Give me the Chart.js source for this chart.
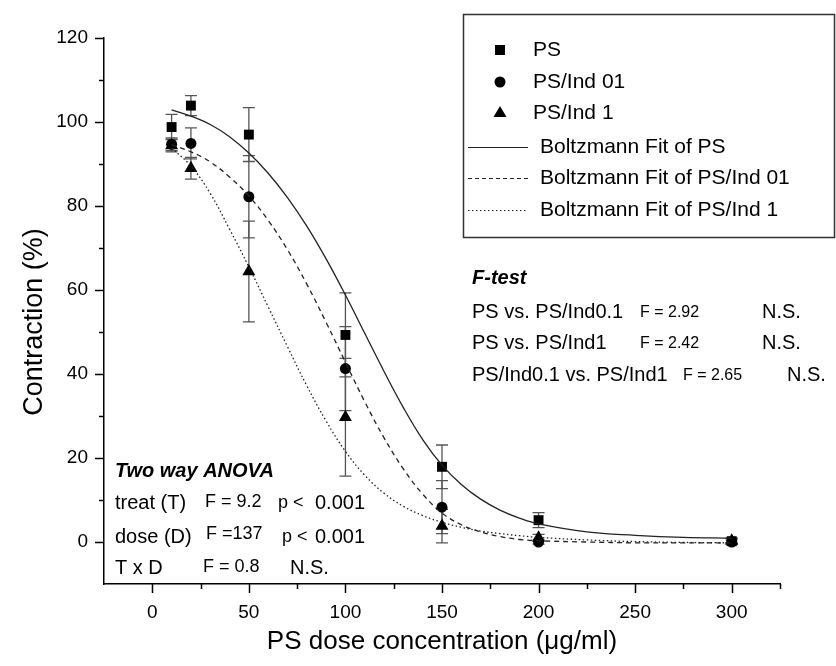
<!DOCTYPE html>
<html>
<head>
<meta charset="utf-8">
<script src="https://cdn.jsdelivr.net/npm/chart.js@4/dist/chart.umd.min.js"></script>
<style>
  html, body { margin: 0; padding: 0; background: #fff; }
  #wrap { width: 836px; height: 666px; }
</style>
</head>
<body>
<div id="wrap"><canvas id="chart" width="836" height="666"></canvas></div>
<script>
// measured points
const doses = [10, 20, 50, 100, 150, 200, 300];
const psMean = [98.8, 103.9, 97.0, 49.3, 17.9, 5.2, 0.2];
const psErr = [3.0, 2.4, 6.4, 10.0, 5.2, 1.8, 0.8];
const ind01Mean = [94.7, 94.9, 82.2, 41.3, 8.3, 0.0, 0.0];
const ind01Err = [1.5, 3.7, 9.8, 10.0, 6.3, 0.5, 0.5];
const ind1Mean = [94.4, 89.0, 64.4, 29.7, 3.8, 1.0, 0.3];
const ind1Err = [1.5, 2.6, 12.0, 14.0, 4.0, 0.8, 0.5];

// fitted curves
const fitX = [10, 20, 30, 40, 50, 60, 70, 80, 90, 100, 110, 120, 130, 140, 150, 160, 170, 180, 190, 200, 225, 250, 275, 300];
const fitPS = [102.9, 101.4, 99.4, 96.5, 92.6, 87.8, 82.0, 75.2, 67.4, 58.8, 49.7, 40.6, 32.0, 24.4, 18.3, 13.7, 10.2, 7.6, 5.7, 4.3, 2.4, 1.6, 1.1, 0.9];
const fitInd01 = [94.6, 92.9, 90.5, 86.9, 82.4, 76.6, 69.6, 61.4, 52.3, 42.8, 33.4, 24.8, 17.4, 11.4, 6.9, 4.1, 2.4, 1.3, 0.6, 0.3, 0.0, -0.2, -0.2, -0.2];
const fitInd1 = [93.8, 89.5, 83.0, 74.5, 65.5, 56.0, 46.5, 37.2, 28.8, 21.6, 15.9, 11.6, 8.5, 6.3, 4.7, 3.5, 2.6, 2.0, 1.5, 1.1, 0.5, 0.1, -0.1, -0.2];

const legendLabels = ['PS', 'PS/Ind 01', 'PS/Ind 1', 'Boltzmann Fit of PS', 'Boltzmann Fit of PS/Ind 01', 'Boltzmann Fit of PS/Ind 1'];
const xTitle = 'PS dose concentration (\u03bcg/ml)';
const yTitle = 'Contraction (%)';

const FONT = '"Liberation Sans", Arial, sans-serif';

function pts(xs, ys) {
    return xs.map((x, i) => ({ x: x, y: ys[i] }));
}

// error bars, drawn under the markers
const errorBars = {
    id: 'errorBars',
    beforeDatasetsDraw(chart) {
        const { ctx, scales: { x, y } } = chart;
        const groups = [[psMean, psErr], [ind01Mean, ind01Err], [ind1Mean, ind1Err]];
        ctx.save();
        ctx.strokeStyle = '#555';
        ctx.lineWidth = 1.3;
        groups.forEach(([m, e]) => {
            doses.forEach((d, i) => {
                const px = x.getPixelForValue(d);
                const top = y.getPixelForValue(m[i] + e[i]);
                const bot = y.getPixelForValue(m[i] - e[i]);
                ctx.beginPath();
                ctx.moveTo(px, top); ctx.lineTo(px, bot);
                ctx.moveTo(px - 6, top); ctx.lineTo(px + 6, top);
                ctx.moveTo(px - 6, bot); ctx.lineTo(px + 6, bot);
                ctx.stroke();
            });
        });
        ctx.restore();
    }
};

// outward major / minor ticks
const axisTicks = {
    id: 'axisTicks',
    afterDraw(chart) {
        const { ctx, scales: { x, y } } = chart;
        ctx.save();
        ctx.strokeStyle = '#000';
        ctx.lineWidth = 1.5;
        ctx.beginPath();
        for (let v = 0; v <= 325; v += 25) {
            const px = Math.round(x.getPixelForValue(v)) + 0.5;
            const len = v % 50 === 0 ? 9 : 5;
            ctx.moveTo(px, y.bottom); ctx.lineTo(px, y.bottom + len);
        }
        for (let v = 0; v <= 120; v += 10) {
            const py = Math.round(y.getPixelForValue(v)) + 0.5;
            const len = v % 20 === 0 ? 9 : 5;
            ctx.moveTo(x.left, py); ctx.lineTo(x.left - len, py);
        }
        ctx.stroke();
        ctx.restore();
    }
};

function marker(ctx, style, cx, cy) {
    ctx.beginPath();
    if (style === 'rect') {
        ctx.rect(cx - 5, cy - 5, 10, 10);
    } else if (style === 'circle') {
        ctx.arc(cx, cy, 5.5, 0, Math.PI * 2);
    } else {
        ctx.moveTo(cx, cy - 7);
        ctx.lineTo(cx + 6.5, cy + 4);
        ctx.lineTo(cx - 6.5, cy + 4);
        ctx.closePath();
    }
    ctx.fill();
}

// legend box, titles and statistics text
const annotations = {
    id: 'annotations',
    afterDraw(chart) {
        const ctx = chart.ctx;
        ctx.save();

        // legend
        ctx.fillStyle = '#fff';
        ctx.fillRect(463, 14, 372, 224);
        ctx.strokeStyle = '#333';
        ctx.lineWidth = 1.5;
        ctx.strokeRect(463.5, 14.5, 371, 223);

        ctx.fillStyle = '#000';
        ctx.font = '21px ' + FONT;
        ctx.textBaseline = 'middle';
        ctx.textAlign = 'left';
        const styles = ['rect', 'circle', 'triangle'];
        const mY = [50, 82, 113];
        styles.forEach((s, i) => {
            marker(ctx, s, 500, mY[i]);
            ctx.fillText(legendLabels[i], 533, mY[i]);
        });
        const lY = [147, 178, 210];
        const dashes = [[], [4, 3], [1.5, 2.5]];
        lY.forEach((yy, i) => {
            ctx.setLineDash(dashes[i]);
            ctx.strokeStyle = '#222';
            ctx.lineWidth = 1.2;
            ctx.beginPath();
            ctx.moveTo(468, yy + 0.5); ctx.lineTo(528, yy + 0.5);
            ctx.stroke();
            ctx.setLineDash([]);
            ctx.fillText(legendLabels[3 + i], 540, yy);
        });

        // F-test
        ctx.font = 'italic bold 20px ' + FONT;
        ctx.fillText('F-test', 472, 278);
        ctx.font = '20px ' + FONT;
        ctx.fillText('PS vs. PS/Ind0.1', 472, 312);
        ctx.fillText('PS vs. PS/Ind1', 472, 343);
        ctx.fillText('PS/Ind0.1 vs. PS/Ind1', 472, 375);
        ctx.fillText('N.S.', 762, 312);
        ctx.fillText('N.S.', 762, 343);
        ctx.fillText('N.S.', 787, 375);
        ctx.font = '16px ' + FONT;
        ctx.fillText('F = 2.92', 640, 313);
        ctx.fillText('F = 2.42', 640, 344);
        ctx.fillText('F = 2.65', 683, 376);

        // two way ANOVA
        ctx.font = 'italic bold 20px ' + FONT;
        ctx.fillText('Two way ANOVA', 115, 471);
        ctx.font = '20px ' + FONT;
        ctx.fillText('treat (T)', 115, 503);
        ctx.fillText('dose (D)', 115, 537);
        ctx.fillText('T x D', 115, 568);
        ctx.fillText('0.001', 315, 503);
        ctx.fillText('0.001', 315, 537);
        ctx.fillText('N.S.', 290, 568);
        ctx.font = '18px ' + FONT;
        ctx.fillText('F = 9.2', 205, 502);
        ctx.fillText('F =137', 206, 534);
        ctx.fillText('F = 0.8', 203, 567);
        ctx.fillText('p <', 278, 503);
        ctx.fillText('p <', 282, 537);

        // axis titles
        ctx.font = '26px ' + FONT;
        ctx.textAlign = 'center';
        ctx.fillText(xTitle, 442, 642);
        ctx.font = '27px ' + FONT;
        ctx.translate(35, 322);
        ctx.rotate(-Math.PI / 2);
        ctx.fillText(yTitle, 0, 0);

        ctx.restore();
    }
};

const pointSet = (label, ys, style, r) => ({
    label: label,
    data: pts(doses, ys),
    showLine: false,
    pointStyle: style,
    pointRadius: r,
    pointHoverRadius: r,
    pointBackgroundColor: '#000',
    pointBorderColor: '#000',
    pointBorderWidth: 0
});

const fitSet = (label, ys, dash) => ({
    label: label,
    data: pts(fitX, ys),
    showLine: true,
    pointRadius: 0,
    borderColor: '#222',
    borderWidth: 1.3,
    borderDash: dash,
    tension: 0.4,
    fill: false
});

new Chart(document.getElementById('chart'), {
    type: 'scatter',
    data: {
        datasets: [
            fitSet(legendLabels[3], fitPS, []),
            fitSet(legendLabels[4], fitInd01, [5, 4]),
            fitSet(legendLabels[5], fitInd1, [1.5, 2.5]),
            pointSet(legendLabels[0], psMean, 'rect', 7),
            pointSet(legendLabels[1], ind01Mean, 'circle', 5.5),
            pointSet(legendLabels[2], ind1Mean, 'triangle', 7.5)
        ]
    },
    options: {
        responsive: false,
        animation: false,
        layout: { padding: { left: 0, right: 56, top: 38, bottom: 0 } },
        plugins: {
            legend: { display: false },
            tooltip: { enabled: false }
        },
        scales: {
            x: {
                type: 'linear',
                min: -25,
                max: 325,
                grid: { display: false, drawTicks: false },
                border: { display: true, color: '#000', width: 1.5 },
                ticks: {
                    stepSize: 25,
                    autoSkip: false,
                    maxRotation: 0,
                    padding: 17,
                    color: '#000',
                    font: { family: FONT, size: 19 },
                    callback: v => (v % 50 === 0 && v >= 0 && v <= 300) ? v : ''
                },
                afterFit: s => { s.height = 82; }
            },
            y: {
                type: 'linear',
                min: -10,
                max: 120,
                grid: { display: false, drawTicks: false },
                border: { display: true, color: '#000', width: 1.5 },
                ticks: {
                    stepSize: 10,
                    autoSkip: false,
                    padding: 16,
                    color: '#000',
                    font: { family: FONT, size: 19 },
                    callback: v => (v % 20 === 0 && v >= 0) ? v : ''
                },
                afterFit: s => { s.width = 104; }
            }
        }
    },
    plugins: [errorBars, axisTicks, annotations]
});
</script>
</body>
</html>
